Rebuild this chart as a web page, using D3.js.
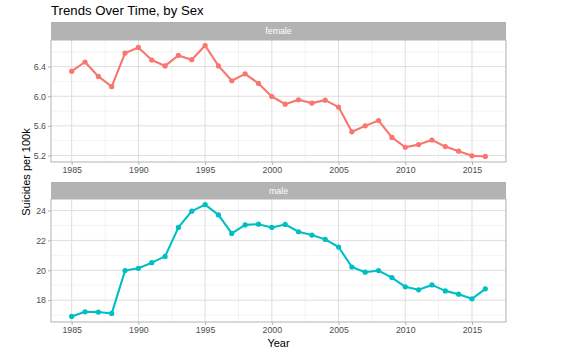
<!DOCTYPE html>
<html><head><meta charset="utf-8">
<script src="https://cdn.jsdelivr.net/npm/d3@7"></script>
<style>body{margin:0;background:#fff}svg{display:block;font-family:"Liberation Sans",Arial,sans-serif}</style>
</head><body><svg id="c" width="576" height="356"></svg>
<script>
const years = d3.range(1985, 2017);
const femaleValues = [6.338,6.462,6.267,6.129,6.582,6.658,6.489,6.409,6.551,6.493,6.684,6.409,6.209,6.302,6.173,5.996,5.893,5.951,5.907,5.947,5.853,5.520,5.600,5.671,5.444,5.311,5.347,5.409,5.320,5.258,5.196,5.187];
const maleValues = [16.91,17.22,17.20,17.11,19.98,20.13,20.51,20.93,22.87,23.96,24.40,23.71,22.47,23.04,23.09,22.87,23.07,22.58,22.36,22.07,21.56,20.22,19.87,19.98,19.51,18.89,18.69,19.02,18.62,18.40,18.09,18.76];
const xTicks = [1985,1990,1995,2000,2005,2010,2015];
const femaleTicks = [5.2,5.6,6.0,6.4];
const maleTicks = [18,20,22,24];
const panels = [
  {name:"female", values:femaleValues, ticks:femaleTicks, color:"#F8766D", fmt:d3.format(".1f"), stripTop:22, top:40, bottom:162},
  {name:"male", values:maleValues, ticks:maleTicks, color:"#00BFC4", fmt:d3.format("d"), stripTop:182, top:199, bottom:322}
];
const svg = d3.select("#c");
const L = 51, R = 506;
const x = d3.scaleLinear().domain([1985 - 31*0.05, 2016 + 31*0.05]).range([L, R]);
const xMinor = d3.range(1982.5, 2020, 5).filter(v => v > x.domain()[0] && v < x.domain()[1]);

svg.append("text").attr("x", L).attr("y", 15).attr("font-size", 13.2).attr("fill", "#000").text("Trends Over Time, by Sex");

panels.forEach(p => {
  const ext = d3.extent(p.values), pad = (ext[1]-ext[0])*0.05;
  const y = d3.scaleLinear().domain([ext[0]-pad, ext[1]+pad]).range([p.bottom, p.top]);
  const g = svg.append("g");
  g.append("rect").attr("x", L).attr("y", p.stripTop).attr("width", R-L).attr("height", p.top-p.stripTop).attr("fill", "#B3B3B3");
  g.append("text").attr("x", (L+R)/2).attr("y", (p.stripTop+p.top)/2 + 3).attr("text-anchor","middle").attr("font-size", 8.8).attr("fill","#fff").text(p.name);
  const step = p.ticks[1]-p.ticks[0];
  const yMinor = d3.range(p.ticks[0]-step/2, p.ticks[p.ticks.length-1]+step, step).filter(v => v > y.domain()[0] && v < y.domain()[1]);
  g.selectAll(".ym").data(yMinor).join("line").attr("x1", L).attr("x2", R).attr("y1", d=>y(d)).attr("y2", d=>y(d)).attr("stroke","#DEDEDE").attr("stroke-width",0.5).attr("opacity",0.7);
  g.selectAll(".xm").data(xMinor).join("line").attr("y1", p.top).attr("y2", p.bottom).attr("x1", d=>x(d)).attr("x2", d=>x(d)).attr("stroke","#DEDEDE").attr("stroke-width",0.5).attr("opacity",0.7);
  g.selectAll(".yM").data(p.ticks).join("line").attr("x1", L).attr("x2", R).attr("y1", d=>y(d)).attr("y2", d=>y(d)).attr("stroke","#DEDEDE").attr("stroke-width",1);
  g.selectAll(".xM").data(xTicks).join("line").attr("y1", p.top).attr("y2", p.bottom).attr("x1", d=>x(d)).attr("x2", d=>x(d)).attr("stroke","#DEDEDE").attr("stroke-width",1);
  const ya = g.append("g").attr("transform", `translate(${L},0)`).call(d3.axisLeft(y).tickValues(p.ticks).tickFormat(p.fmt).tickSize(3).tickPadding(2));
  const xa = g.append("g").attr("transform", `translate(0,${p.bottom})`).call(d3.axisBottom(x).tickValues(xTicks).tickFormat(d3.format("d")).tickSize(3).tickPadding(2));
  [ya, xa].forEach(a => {
    a.select(".domain").remove();
    a.selectAll("line").attr("stroke","#B3B3B3");
    a.selectAll("text").attr("fill","#4D4D4D").attr("font-size",8.8).attr("font-family","Liberation Sans, Arial, sans-serif");
  });
  g.append("rect").attr("x", L).attr("y", p.top).attr("width", R-L).attr("height", p.bottom-p.top).attr("fill","none").attr("stroke","#B3B3B3").attr("stroke-width",1);
  const line = d3.line().x((d,i)=>x(years[i])).y(d=>y(d));
  g.append("path").datum(p.values).attr("d", line).attr("fill","none").attr("stroke", p.color).attr("stroke-width", 2.1).attr("stroke-linejoin","round");
  g.selectAll(".pt").data(p.values).join("circle").attr("cx",(d,i)=>x(years[i])).attr("cy", d=>y(d)).attr("r", 2.6).attr("fill", p.color);
});

svg.append("text").attr("x", (L+R)/2).attr("y", 347).attr("text-anchor","middle").attr("font-size", 11).attr("fill","#000").text("Year");
svg.append("text").attr("transform", `translate(30,${(22+322)/2}) rotate(-90)`).attr("text-anchor","middle").attr("font-size", 11).attr("fill","#000").text("Suicides per 100k");
</script></body></html>
